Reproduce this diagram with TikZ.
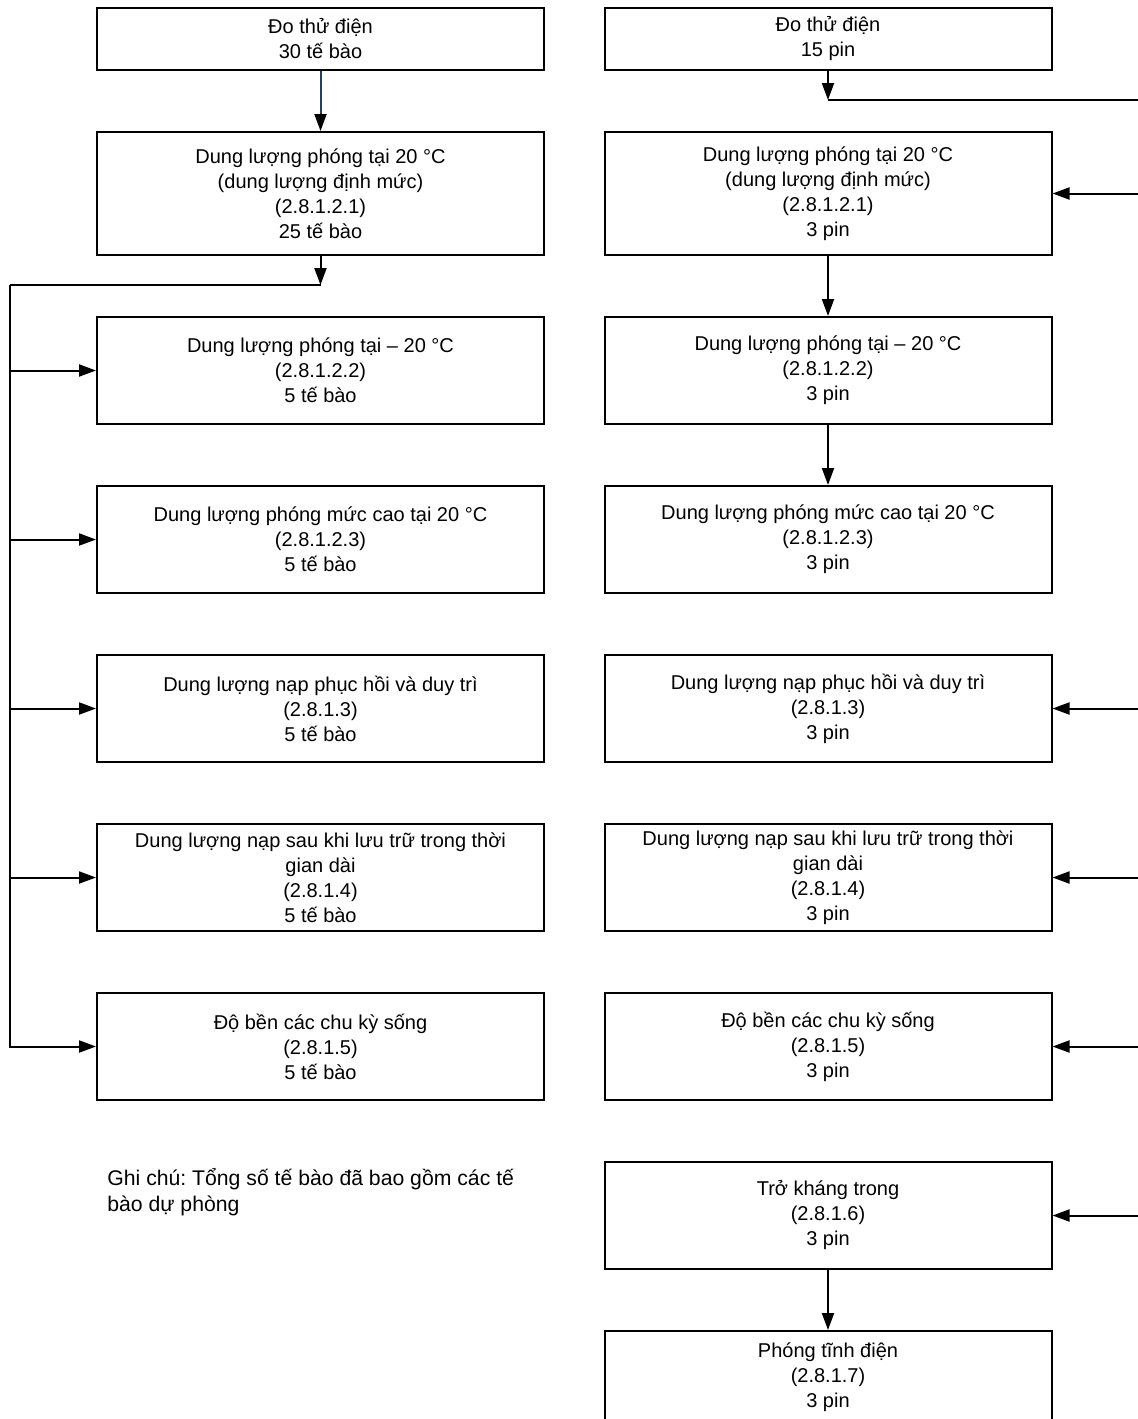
\documentclass[tikz,border=0pt]{standalone}
\usepackage{fontspec}
\setmainfont{Liberation Sans}
\usepackage{tikz}
\usetikzlibrary{arrows.meta,positioning}
\definecolor{navyline}{RGB}{36,63,96}
\frenchspacing
\tikzset{
tst_box/.style = {rectangle, draw=black, line width=1pt, align=center, inner sep=0pt,
minimum width=223.5pt, minimum height=53.5pt, font=\fontsize{10pt}{12.5pt}\selectfont},% hop thu nghiem
tst_top/.style = {tst_box, minimum height=31pt},% hop dau cot
tst_two/.style = {tst_box, minimum height=61.5pt},% hop dung luong dinh muc
tst_end/.style = {tst_box, minimum height=46pt},% hop cuoi, cat o mep duoi
note_txt/.style = {align=left, inner sep=0pt, anchor=north west, font=\fontsize{10.6pt}{13pt}\selectfont},% ghi chu
conn/.style = {line width=1pt, -{Triangle[length=8.5pt,width=6pt]}},% mui ten
wire/.style = {line width=1pt}% duong noi
}
\begin{document}
\begin{tikzpicture}[x=0.5pt, y=-0.5pt, node distance=30pt]
\useasboundingbox (0,0) rectangle (1138,1419);
% cot trai: te bao
\node [tst_top] (l1) at (320.5,39) {Đo thử điện\\30 tế bào};
\node [tst_two, below=of l1] (l2) {Dung lượng phóng tại 20 °C\\(dung lượng định mức)\\(2.8.1.2.1)\\25 tế bào};
\node [tst_box, below=of l2] (l3) {Dung lượng phóng tại – 20 °C\\(2.8.1.2.2)\\5 tế bào};
\node [tst_box, below=of l3] (l4) {Dung lượng phóng mức cao tại 20 °C\\(2.8.1.2.3)\\5 tế bào};
\node [tst_box, below=of l4] (l5) {Dung lượng nạp phục hồi và duy trì\\(2.8.1.3)\\5 tế bào};
\node [tst_box, below=of l5] (l6) {Dung lượng nạp sau khi lưu trữ trong thời\\gian dài\\(2.8.1.4)\\5 tế bào};
\node [tst_box, below=of l6] (l7) {Độ bền các chu kỳ sống\\(2.8.1.5)\\5 tế bào};
\node [note_txt] (note) at (107,1168) {Ghi chú: Tổng số tế bào đã bao gồm các tế\\bào dự phòng};
% cot phai: pin
\node [tst_top] (r1) at (828,39) {Đo thử điện\\15 pin};
\node [tst_two, below=of r1] (r2) {Dung lượng phóng tại 20 °C\\(dung lượng định mức)\\(2.8.1.2.1)\\3 pin};
\node [tst_box, below=of r2] (r3) {Dung lượng phóng tại – 20 °C\\(2.8.1.2.2)\\3 pin};
\node [tst_box, below=of r3] (r4) {Dung lượng phóng mức cao tại 20 °C\\(2.8.1.2.3)\\3 pin};
\node [tst_box, below=of r4] (r5) {Dung lượng nạp phục hồi và duy trì\\(2.8.1.3)\\3 pin};
\node [tst_box, below=of r5] (r6) {Dung lượng nạp sau khi lưu trữ trong thời\\gian dài\\(2.8.1.4)\\3 pin};
\node [tst_box, below=of r6] (r7) {Độ bền các chu kỳ sống\\(2.8.1.5)\\3 pin};
\node [tst_box, below=of r7] (r8) {Trở kháng trong\\(2.8.1.6)\\3 pin};
\node [tst_end, below=of r8] (r9) {Phóng tĩnh điện\\(2.8.1.7)\\3 pin};
% noi cot trai
\coordinate (lj) at (320.5,285);
\coordinate (lbus) at (10,285);
\draw [conn, draw=navyline, -{Triangle[length=8.5pt,width=6pt,color=black]}] (l1) -- (l2);
\draw [conn] (l2) -- (lj);
\draw [wire] (lj) -- (lbus);
\draw [conn] (lbus) |- (l7.west);
\foreach \n in {3,...,6}
  \draw [conn] (lbus |- l\n.west) -- (l\n.west);
% noi cot phai
\coordinate (rj) at (828,100);
\coordinate (redge) at (1138,100);
\draw [conn] (r1) -- (rj);
\draw [wire] (rj) -- (redge);
\foreach \n in {2,5,6,7,8}
  \draw [conn] (redge |- r\n.east) -- (r\n.east);
\draw [conn] (r2) -- (r3);
\draw [conn] (r3) -- (r4);
\draw [conn] (r8) -- (r9);
\end{tikzpicture}
\end{document}
